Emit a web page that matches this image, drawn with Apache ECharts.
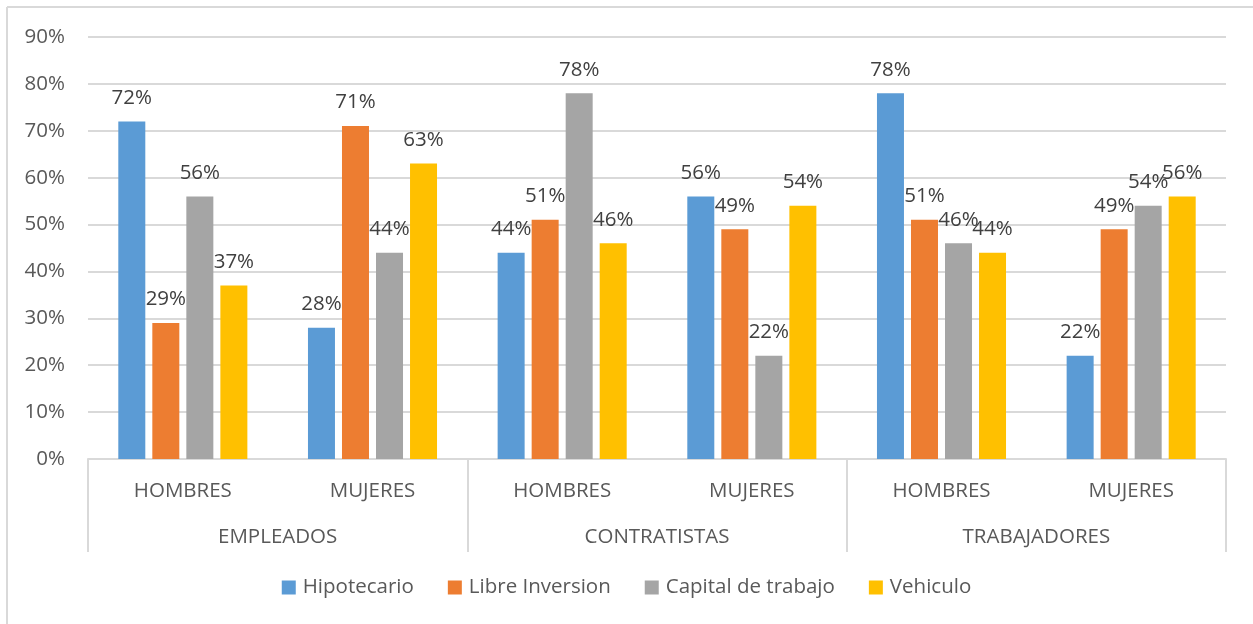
<!DOCTYPE html>
<html>
<head>
<meta charset="utf-8">
<script src="https://cdn.jsdelivr.net/npm/echarts@6/dist/echarts.min.js"></script>
<style>
  html, body { margin: 0; padding: 0; background: #fff; }
  #chart { width: 1253px; height: 624px; }
</style>
</head>
<body>
<div id="chart"></div>
<script>
// sub categories and top-level groups
const subCats = ['HOMBRES', 'MUJERES', 'HOMBRES', 'MUJERES', 'HOMBRES', 'MUJERES'];
const groups = ['EMPLEADOS', 'CONTRATISTAS', 'TRABAJADORES'];
const seriesNames = ['Hipotecario', 'Libre Inversion', 'Capital de trabajo', 'Vehiculo'];
const hipotecario = [72, 28, 44, 56, 78, 22];
const libreInversion = [29, 71, 51, 49, 51, 49];
const capitalTrabajo = [56, 44, 78, 22, 46, 54];
const vehiculo = [37, 63, 46, 54, 44, 56];
const colors = ['#5B9BD5', '#ED7D31', '#A5A5A5', '#FFC000'];

const font = 'Open Sans';
const fs = 20.5;
const chart = echarts.init(document.getElementById('chart'));

const makeSeries = (name, data) => ({
  name: name,
  type: 'bar',
  data: data,
  barWidth: 27,
  barGap: '26%',
  label: {
    show: true,
    position: 'top',
    distance: 13,
    formatter: '{c}%',
    color: '#404040',
    fontSize: fs,
    fontFamily: font
  }
});

const option = {
  animation: false,
  color: colors,
  grid: { left: 88, right: 27, top: 37, bottom: 165, containLabel: false },
  legend: {
    bottom: 21,
    left: 'center',
    itemWidth: 14,
    itemHeight: 14,
    itemGap: 34,
    icon: 'rect',
    textStyle: { color: '#595959', fontSize: fs, fontFamily: font, padding: [0, 0, 0, 2] },
    data: seriesNames
  },
  graphic: [
    { type: 'line', shape: { x1: 7, y1: 7, x2: 1253, y2: 7 }, style: { stroke: '#d9d9d9', lineWidth: 2 } },
    { type: 'line', shape: { x1: 7, y1: 7, x2: 7, y2: 624 }, style: { stroke: '#d9d9d9', lineWidth: 2 } }
  ],
  xAxis: [
    {
      type: 'category',
      data: subCats,
      axisLine: { show: true, lineStyle: { color: '#d9d9d9', width: 2 } },
      axisTick: { show: false },
      axisLabel: { color: '#595959', fontSize: fs, fontFamily: font, margin: 22 }
    },
    {
      type: 'category',
      data: groups,
      position: 'bottom',
      axisLine: { show: false },
      axisTick: { show: true, length: 93, lineStyle: { color: '#d9d9d9', width: 2 } },
      axisLabel: { color: '#595959', fontSize: fs, fontFamily: font, margin: 68 },
      splitLine: { show: false }
    }
  ],
  yAxis: {
    type: 'value',
    min: 0,
    max: 90,
    interval: 10,
    axisLine: { show: false },
    axisTick: { show: false },
    axisLabel: { formatter: '{value}%', color: '#595959', fontSize: fs, fontFamily: font, margin: 23 },
    splitLine: { lineStyle: { color: '#d9d9d9', width: 2 } }
  },
  series: [
    makeSeries(seriesNames[0], hipotecario),
    makeSeries(seriesNames[1], libreInversion),
    makeSeries(seriesNames[2], capitalTrabajo),
    makeSeries(seriesNames[3], vehiculo)
  ]
};
chart.setOption(option);
</script>
</body>
</html>
